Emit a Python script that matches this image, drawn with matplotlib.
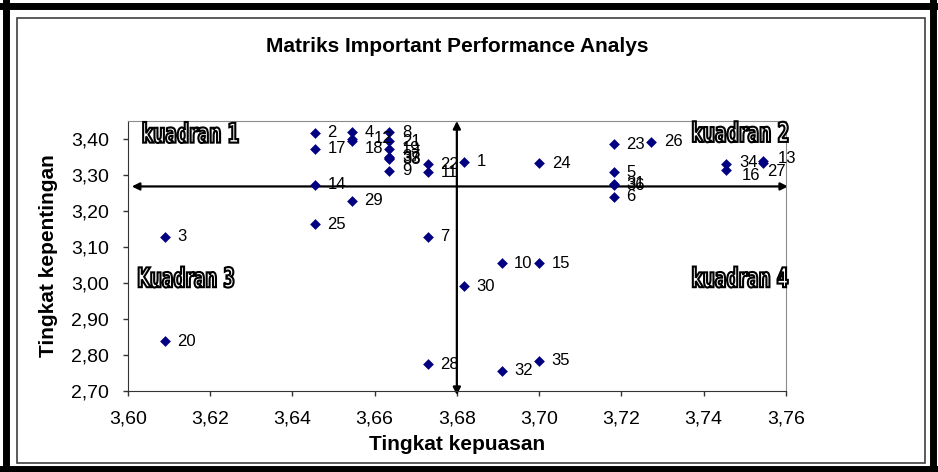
import matplotlib
matplotlib.use('Agg')
import matplotlib.pyplot as plt
import matplotlib.transforms as mtransforms
from matplotlib.patches import Rectangle, PathPatch
from matplotlib.lines import Line2D
from matplotlib.textpath import TextPath
from matplotlib.font_manager import FontProperties
from matplotlib.ticker import FuncFormatter

# data (atribut no., tingkat kepuasan, tingkat kepentingan)
atribut = [1, 2, 3, 4, 5, 6, 7, 8, 9, 10,
           11, 12, 13, 14, 15, 16, 17, 18, 19, 20,
           21, 22, 23, 24, 25, 26, 27, 28, 29, 30,
           31, 32, 33, 34, 35, 36, 37, 38]
kepuasan = [3.6817, 3.6455, 3.6090, 3.6545, 3.7182, 3.7182, 3.6730, 3.6636, 3.6636, 3.6909,
            3.6730, 3.6545, 3.7545, 3.6455, 3.7000, 3.7455, 3.6455, 3.6545, 3.6636, 3.6090,
            3.6636, 3.6730, 3.7182, 3.7000, 3.6455, 3.7273, 3.7545, 3.6730, 3.6545, 3.6818,
            3.7182, 3.6909, 3.6636, 3.7455, 3.7000, 3.7182, 3.6636, 3.6636]
kepentingan = [3.336, 3.418, 3.128, 3.419, 3.308, 3.239, 3.128, 3.419, 3.311, 3.054,
               3.308, 3.401, 3.338, 3.273, 3.054, 3.314, 3.373, 3.393, 3.373, 2.838,
               3.393, 3.330, 3.385, 3.332, 3.163, 3.392, 3.333, 2.774, 3.228, 2.991,
               3.276, 2.755, 3.346, 3.330, 2.783, 3.272, 3.350, 3.343]

rata_kepuasan = 3.68
rata_kepentingan = 3.268

x_ticks = [3.60, 3.62, 3.64, 3.66, 3.68, 3.70, 3.72, 3.74, 3.76]
y_ticks = [2.70, 2.80, 2.90, 3.00, 3.10, 3.20, 3.30, 3.40]

kuadran_teks = ['kuadran 1', 'kuadran 2', 'Kuadran 3', 'kuadran 4']
kuadran_x = [3.6153, 3.7489, 3.6142, 3.7489]
kuadran_y = [3.418, 3.420, 3.016, 3.016]

# manual label nudges (points) like the dragged labels in the original
nudge = {12: (7, 0), 18: (0, -5), 13: (1, 2), 27: (-6, -6), 16: (2, -4), 34: (0, 1)}

plt.rcParams['font.family'] = ['Liberation Sans', 'DejaVu Sans']

fig = plt.figure(figsize=(9.38, 4.72), dpi=100)
ax = fig.add_axes([127.7 / 938, 1 - 390.7 / 472, (786 - 127.7) / 938, (390.7 - 121) / 472])

ax.scatter(kepuasan, kepentingan, marker='D', s=30, color='#000080', zorder=3, linewidths=0)

for lab, x, y in zip(atribut, kepuasan, kepentingan):
    dx, dy = nudge.get(lab, (0, 0))
    ax.annotate(str(lab), (x, y), xytext=(9 + dx, dy), textcoords='offset points',
                ha='left', va='center', fontsize=12, color='black', zorder=4)

# quadrant axes (double arrows)
arrow = dict(arrowstyle='<|-|>', color='black', lw=1.6, mutation_scale=11,
             shrinkA=0, shrinkB=0)
ax.annotate('', xy=(3.7605, rata_kepentingan), xytext=(3.601, rata_kepentingan),
            arrowprops=arrow, annotation_clip=False, zorder=2)
ax.annotate('', xy=(rata_kepuasan, 3.45), xytext=(rata_kepuasan, 2.688),
            arrowprops=arrow, annotation_clip=False, zorder=2)

# outlined, condensed "wordart" labels for the quadrants
qprop = FontProperties(family='DejaVu Sans', weight='bold')
for t, x, y in zip(kuadran_teks, kuadran_x, kuadran_y):
    tp = TextPath((0, 0), t, size=20, prop=qprop)
    ext = tp.get_extents()
    sx = 95 / ext.width
    sy = 21 / ext.height
    tr = (mtransforms.Affine2D()
          .translate(-(ext.x0 + ext.width / 2), -(ext.y0 + ext.height / 2))
          .scale(sx, sy)
          + mtransforms.ScaledTranslation(x, y, ax.transData))
    ax.add_patch(PathPatch(tp, transform=tr, facecolor='white', edgecolor='black',
                           lw=1.5, zorder=5, clip_on=False))

ax.set_xlim(3.60, 3.76)
ax.set_ylim(2.70, 3.45)
ax.set_xticks(x_ticks)
ax.set_yticks(y_ticks)
comma = FuncFormatter(lambda v, p: f'{v:.2f}'.replace('.', ','))
ax.xaxis.set_major_formatter(comma)
ax.yaxis.set_major_formatter(comma)
ax.tick_params(direction='out', length=3.6, width=1, labelsize=14, color='#333333')
ax.tick_params(axis='y', pad=10)
ax.tick_params(axis='x', pad=11)

for s in ['top', 'right']:
    ax.spines[s].set_color('#8c8c8c')
for s in ['left', 'bottom']:
    ax.spines[s].set_color('#333333')

ax.set_xlabel('Tingkat kepuasan', fontsize=15, fontweight='bold', labelpad=5)
ax.set_ylabel('Tingkat kepentingan', fontsize=15, fontweight='bold', labelpad=9)

fig.text(457 / 938, 1 - 46 / 472, 'Matriks Important Performance Analys',
         ha='center', va='center', fontsize=15, fontweight='bold')

# chart area border and the thick page frame
fig.patches.append(Rectangle((17 / 938, 1 - 463 / 472), (925 - 17) / 938, (463 - 18) / 472,
                             transform=fig.transFigure, fill=False, edgecolor='#404040', lw=1.2))
for (x0, y0, x1, y1) in [(0, 5.5, 938, 5.5), (5.5, 0, 5.5, 472), (932.5, 0, 932.5, 472),
                         (0, 468.5, 938, 468.5)]:
    fig.lines.append(Line2D([x0 / 938, x1 / 938], [1 - y0 / 472, 1 - y1 / 472],
                            transform=fig.transFigure, color='black', lw=5))

fig.savefig('out.png', dpi=100)
